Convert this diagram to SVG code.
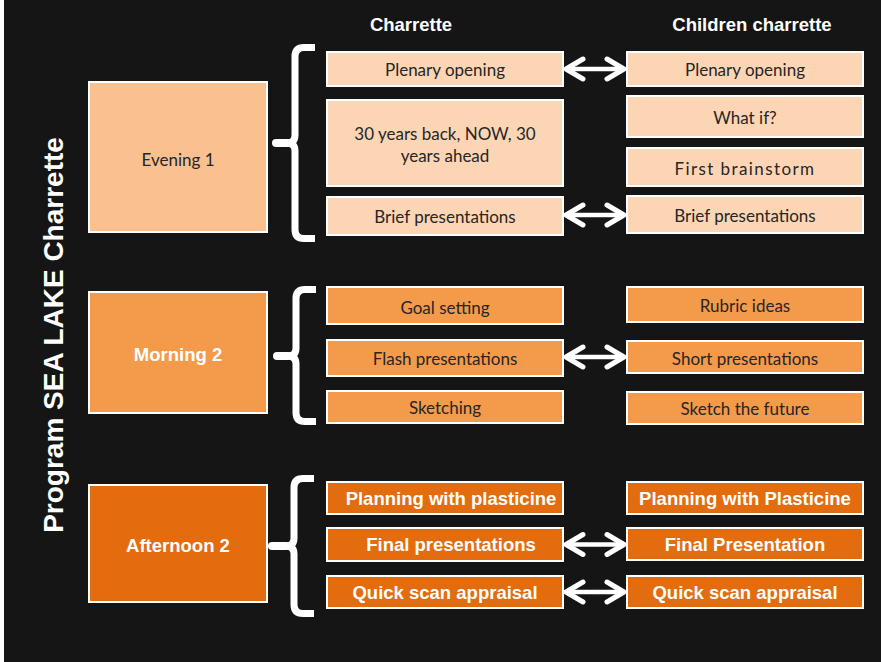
<svg xmlns="http://www.w3.org/2000/svg" width="881" height="662" viewBox="0 0 881 662">
  <defs>
    <style>
      .bg { fill: #151515; }
      .box { stroke: #ffffff; stroke-width: 2; }
      .eve { fill: #FAC090; }
      .lite { fill: #FCD5B4; }
      .morn { fill: #F49A4B; }
      .aft { fill: #E36C0F; }
      .t { font-family: Lato, "Liberation Sans", sans-serif; font-size: 17px; fill: #262626; text-anchor: middle; }
      .tb { font-family: "Liberation Sans", Arial, sans-serif; font-weight: bold; font-size: 18.5px; fill: #ffffff; text-anchor: middle; }
      .hdr { font-family: "Liberation Sans", Arial, sans-serif; font-weight: bold; font-size: 18.5px; fill: #ffffff; text-anchor: middle; }
      .title { font-family: "Liberation Sans", Arial, sans-serif; font-weight: bold; font-size: 28px; fill: #ffffff; text-anchor: middle; }
      .brace { fill: none; stroke: #ffffff; stroke-width: 7; stroke-linejoin: round; }
      .tip { fill: none; stroke: #ffffff; stroke-width: 8; stroke-linecap: round; }
      .link { fill: none; stroke: #ffffff; stroke-width: 4.5; marker-start: url(#chev-start); marker-end: url(#chev-end); }
    </style>
    <marker id="chev-end" markerUnits="userSpaceOnUse" viewBox="-22 -14 26 28" markerWidth="26" markerHeight="28" refX="0" refY="0" orient="auto">
      <path d="M-17,-10 L0,0 L-17,10" fill="none" stroke="#ffffff" stroke-width="5" stroke-linecap="round" stroke-linejoin="round"/>
    </marker>
    <marker id="chev-start" markerUnits="userSpaceOnUse" viewBox="-4 -14 26 28" markerWidth="26" markerHeight="28" refX="0" refY="0" orient="auto">
      <path d="M17,-10 L0,0 L17,10" fill="none" stroke="#ffffff" stroke-width="5" stroke-linecap="round" stroke-linejoin="round"/>
    </marker>
  </defs>

  <rect x="0" y="0" width="881" height="662" fill="#ffffff"/>
  <rect class="bg" x="4" y="0" width="877" height="662"/>

  <!-- vertical title -->
  <text class="title" transform="translate(63,335) rotate(-90)">Program SEA LAKE Charrette</text>

  <!-- column headers -->
  <text class="hdr" x="411" y="31">Charrette</text>
  <text class="hdr" x="752" y="31">Children charrette</text>

  <!-- session blocks -->
  <g id="evening-1">
    <rect class="box eve" x="89" y="82" width="178" height="150"/>
    <text class="t" x="178" y="166">Evening 1</text>
  </g>
  <g id="morning-2">
    <rect class="box morn" x="89" y="292" width="178" height="121"/>
    <text class="tb" x="178" y="361">Morning 2</text>
  </g>
  <g id="afternoon-2">
    <rect class="box aft" x="89" y="485" width="178" height="117"/>
    <text class="tb" x="178" y="552">Afternoon 2</text>
  </g>

  <!-- braces -->
  <g id="braces">
    <path class="brace" d="M315,47.5 H304 Q295,47.5 295,56.5 V135 Q295,143 287,143 Q295,143 295,151 V229.5 Q295,238.5 304,238.5 H315"/>
    <path class="tip" d="M287,143 H276"/>
    <path class="brace" d="M316,289.5 H305 Q296,289.5 296,298.5 V348 Q296,356 288,356 Q296,356 296,364 V412.5 Q296,421.5 305,421.5 H316"/>
    <path class="tip" d="M288,356 H277"/>
    <path class="brace" d="M314,478.5 H303 Q294,478.5 294,487.5 V538 Q294,546 286,546 Q294,546 294,554 V604.5 Q294,613.5 303,613.5 H314"/>
    <path class="tip" d="M286,546 H272"/>
  </g>

  <!-- charrette activities -->
  <g id="c-plenary">
    <rect class="box lite" x="327" y="52" width="236" height="34"/>
    <text class="t" x="445" y="76">Plenary opening</text>
  </g>
  <g id="c-30years">
    <rect class="box lite" x="327" y="100" width="236" height="86"/>
    <text class="t" x="445" y="140">30 years back, NOW, 30</text>
    <text class="t" x="445" y="162">years ahead</text>
  </g>
  <g id="c-brief">
    <rect class="box lite" x="327" y="197" width="236" height="38"/>
    <text class="t" x="445" y="223">Brief presentations</text>
  </g>
  <g id="c-goal">
    <rect class="box morn" x="327" y="287" width="236" height="37"/>
    <text class="t" x="445" y="314">Goal setting</text>
  </g>
  <g id="c-flash">
    <rect class="box morn" x="327" y="340" width="236" height="36"/>
    <text class="t" x="445" y="365">Flash presentations</text>
  </g>
  <g id="c-sketching">
    <rect class="box morn" x="327" y="391" width="236" height="32"/>
    <text class="t" x="445" y="414">Sketching</text>
  </g>
  <g id="c-plasticine">
    <rect class="box aft" x="327" y="482" width="236" height="32"/>
    <text class="tb" x="451" y="505">Planning with plasticine</text>
  </g>
  <g id="c-final">
    <rect class="box aft" x="327" y="528" width="236" height="33"/>
    <text class="tb" x="451" y="551">Final presentations</text>
  </g>
  <g id="c-quickscan">
    <rect class="box aft" x="327" y="576" width="236" height="32"/>
    <text class="tb" x="445" y="599">Quick scan appraisal</text>
  </g>

  <!-- children charrette activities -->
  <g id="k-plenary">
    <rect class="box lite" x="627" y="52" width="236" height="34"/>
    <text class="t" x="745" y="76">Plenary opening</text>
  </g>
  <g id="k-whatif">
    <rect class="box lite" x="627" y="96" width="236" height="41"/>
    <text class="t" x="745" y="124">What if?</text>
  </g>
  <g id="k-brainstorm">
    <rect class="box lite" x="627" y="148" width="236" height="38"/>
    <text class="t" x="745" y="175" letter-spacing="1.4">First brainstorm</text>
  </g>
  <g id="k-brief">
    <rect class="box lite" x="627" y="196" width="236" height="37"/>
    <text class="t" x="745" y="222">Brief presentations</text>
  </g>
  <g id="k-rubric">
    <rect class="box morn" x="627" y="287" width="236" height="35"/>
    <text class="t" x="745" y="312">Rubric ideas</text>
  </g>
  <g id="k-short">
    <rect class="box morn" x="627" y="341" width="236" height="32"/>
    <text class="t" x="745" y="365">Short presentations</text>
  </g>
  <g id="k-sketch">
    <rect class="box morn" x="627" y="392" width="236" height="32"/>
    <text class="t" x="745" y="415">Sketch the future</text>
  </g>
  <g id="k-plasticine">
    <rect class="box aft" x="627" y="482" width="236" height="32"/>
    <text class="tb" x="745" y="505">Planning with Plasticine</text>
  </g>
  <g id="k-final">
    <rect class="box aft" x="627" y="528" width="236" height="32"/>
    <text class="tb" x="745" y="551">Final Presentation</text>
  </g>
  <g id="k-quickscan">
    <rect class="box aft" x="627" y="576" width="236" height="32"/>
    <text class="tb" x="745" y="599">Quick scan appraisal</text>
  </g>

  <!-- links between parallel activities -->
  <g id="connectors">
    <path class="link" d="M566,69 H624"/>
    <path class="link" d="M566,215 H624"/>
    <path class="link" d="M566,357 H624"/>
    <path class="link" d="M566,544.5 H624"/>
    <path class="link" d="M566,592 H624"/>
  </g>
</svg>
